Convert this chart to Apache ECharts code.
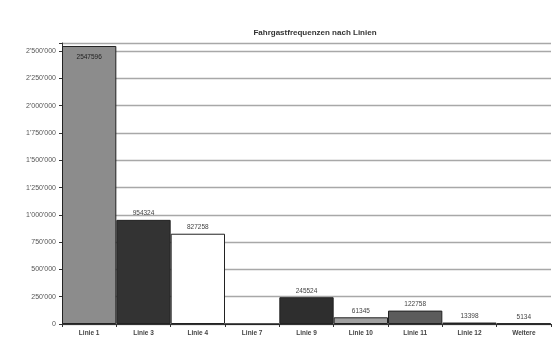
<!DOCTYPE html>
<html>
<head>
<meta charset="utf-8">
<script src="https://cdn.jsdelivr.net/npm/echarts@6/dist/echarts.min.js"></script>
<style>
  html, body { margin: 0; padding: 0; background: #fff; }
  #chart { width: 559px; height: 345px; }
</style>
</head>
<body>
<div id="chart"></div>
<script>
// Passenger counts per line
const categories = ['Linie 1', 'Linie 3', 'Linie 4', 'Linie 7', 'Linie 9', 'Linie 10', 'Linie 11', 'Linie 12', 'Weitere'];
const passengers = [2547596, 954324, 827258, 0, 245524, 61345, 122758, 13398, 5134];
const yTicks = [0, 250000, 500000, 750000, 1000000, 1250000, 1500000, 1750000, 2000000, 2250000, 2500000];

// Fill colours per bar (grey shades as printed)
const barColors = ['#8c8c8c', '#333333', '#ffffff', '#ffffff', '#2e2e2e', '#a0a0a0', '#5c5c5c', '#808080', '#b0b0b0'];

function swiss(n) {
  return String(n).replace(/\B(?=(\d{3})+(?!\d))/g, "'");
}

const chart = echarts.init(document.getElementById('chart'), null, { renderer: 'canvas' });

const data = passengers.map((v, i) => ({
  value: v,
  itemStyle: { color: barColors[i], borderColor: '#222', borderWidth: 1 },
  label: {
    show: v > 0,
    position: i === 0 ? 'insideTop' : 'top',
    distance: i === 0 ? 8 : 3,
    color: i === 0 ? '#222' : '#444'
  }
}));

chart.setOption({
  animation: false,
  backgroundColor: '#ffffff',
  title: {
    text: 'Fahrgastfrequenzen nach Linien',
    left: 310,
    top: 24,
    textAlign: 'center',
    textStyle: { fontFamily: 'Liberation Sans', fontSize: 8, fontWeight: 'bold', color: '#333' }
  },
  grid: { left: 62, right: 8, top: 43, bottom: 21, containLabel: false },
  xAxis: {
    type: 'category',
    data: categories,
    axisLine: { lineStyle: { color: '#333', width: 1 } },
    axisTick: { show: true, alignWithLabel: false, length: 3, lineStyle: { color: '#333' } },
    axisLabel: { fontFamily: 'Liberation Sans', fontSize: 6.5, fontWeight: 'bold', color: '#444', margin: 6, interval: 0 }
  },
  yAxis: {
    type: 'value',
    min: 0,
    max: 2575000,
    interval: 250000,
    axisLine: { show: true, lineStyle: { color: '#333', width: 1 } },
    axisTick: { show: true, length: 3, lineStyle: { color: '#333' } },
    axisLabel: {
      fontFamily: 'Liberation Sans', fontSize: 7, color: '#555', margin: 6,
      formatter: v => (yTicks.indexOf(v) >= 0 ? swiss(v) : '')
    },
    splitLine: { show: true, lineStyle: { color: '#a8a8a8', width: 1.4 } }
  },
  series: [{
    type: 'bar',
    data: data,
    barCategoryGap: 0,
    label: {
      fontFamily: 'Liberation Sans',
      fontSize: 6.5,
      formatter: p => String(p.value)
    }
  }]
});
</script>
</body>
</html>
